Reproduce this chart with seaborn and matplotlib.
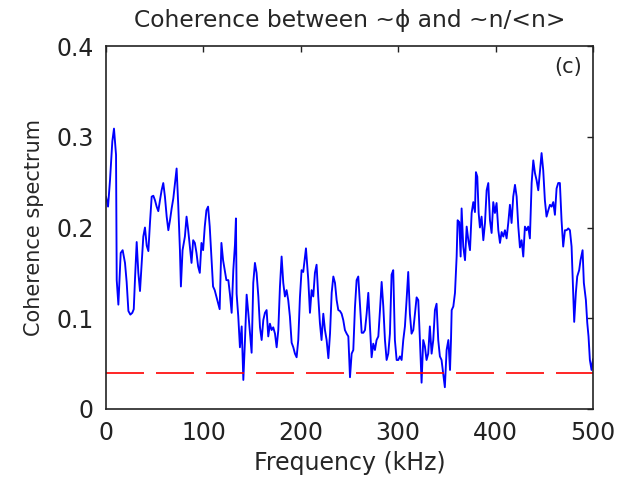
import numpy as np
import pandas as pd
import matplotlib
matplotlib.use("Agg")
import matplotlib.pyplot as plt
import seaborn as sns

# Frequency (kHz) and coherence values
freq = [0.0, 2.1, 4.1, 6.5, 8.2, 10.3, 11.0, 12.7, 15.1, 17.1, 19.5, 21.2, 23.0, 25.0, 27.0, 28.5,
        29.8, 31.5, 33.2, 34.9, 36.6, 38.3, 40.0, 41.8, 43.5, 45.2, 46.9, 48.6, 50.3, 52.0, 53.7,
        55.4, 57.1, 58.8, 60.5, 62.3, 64.0, 65.7, 67.4, 69.1, 70.8, 72.5, 74.2, 75.9, 76.9, 78.6,
        81.0, 82.7, 84.4, 86.1, 87.8, 89.5, 91.2, 92.9, 94.6, 96.3, 98.0, 99.7, 101.4, 103.1,
        104.8, 106.5, 108.2, 109.9, 111.6, 113.3, 116.7, 118.5, 120.2, 123.6,
        125.6, 127.3, 129.0, 130.7, 132.4, 133.4, 134.1, 135.8, 137.5, 139.3, 141.0, 142.7, 144.4,
        146.1, 147.8, 149.5, 151.2, 152.9, 154.6, 156.4, 158.1, 159.8, 161.5, 163.2, 164.9, 166.6,
        168.3, 170.0, 171.7, 173.5, 175.2, 176.9, 178.6, 180.3, 182.0, 183.7, 185.4, 187.1, 188.8,
        190.6, 192.3, 194.0, 195.7, 197.4, 199.1, 200.8, 202.5, 205.3, 207.7, 209.4, 211.1, 212.8,
        214.5, 216.2, 217.9, 219.6, 221.3,
        223.1, 224.8, 226.5, 228.3, 230.0, 231.7, 233.4, 235.1, 236.8, 238.5, 240.2, 241.9, 243.6,
        245.3, 247.1, 248.8, 250.5, 252.2, 253.9, 255.6, 257.3, 259.0, 260.7, 262.5, 264.2, 265.9,
        267.6, 269.3, 271.0, 272.7, 274.4, 276.1, 277.8, 279.6, 281.3, 283.0, 284.7, 286.4, 288.1,
        289.8, 291.5, 293.2, 294.9, 296.6, 298.4, 300.1, 301.8, 303.5, 305.2, 306.9, 308.6, 310.3,
        312.0, 313.7, 315.5, 317.2, 318.9, 320.6, 322.3, 324.0, 325.7, 327.4, 329.1, 330.8, 332.5,
        334.3, 336.0, 337.7, 339.4, 341.1, 342.8, 344.5, 346.2, 347.9,
        349.7, 351.5, 353.2, 354.2, 354.9, 356.6, 358.3, 360.0, 361.0, 362.7, 364.1, 365.1, 366.8,
        368.6, 370.3, 372.0, 373.7, 375.4, 377.1, 378.8, 379.8, 381.2, 382.6, 383.9, 385.6, 387.4,
        389.1, 390.8, 392.5, 394.2, 395.9, 397.6, 399.3, 401.0, 402.8, 404.5, 406.2, 407.9, 409.6,
        411.3, 413.0, 414.7, 416.4, 418.1, 419.9, 421.6, 423.3, 425.0, 426.7, 428.4, 430.1, 431.8,
        433.5, 435.2, 437.0, 438.7, 440.4, 442.1, 443.8, 445.5, 447.2, 448.9, 450.6, 452.3, 454.1,
        455.8, 457.5, 459.2, 460.9, 462.6, 464.3, 466.0, 467.7, 469.4, 471.2, 472.9, 474.6, 476.3,
        478.0, 479.7, 480.7, 482.4, 483.8, 485.8, 487.2, 489.3, 490.6, 492.7, 494.1, 495.4, 496.8,
        498.5, 500.0]

coherence = [0.234, 0.223, 0.252, 0.295, 0.309, 0.280, 0.142, 0.115, 0.172, 0.175, 0.161, 0.140,
             0.108, 0.104, 0.106, 0.110,
             0.144, 0.184, 0.150, 0.130, 0.160, 0.190, 0.200, 0.180, 0.174, 0.206, 0.234, 0.235,
             0.230, 0.223, 0.218, 0.230, 0.241, 0.249, 0.234, 0.212, 0.197, 0.208, 0.221, 0.232,
             0.249, 0.265, 0.224, 0.175, 0.135, 0.175, 0.190, 0.212, 0.197, 0.179, 0.161, 0.186,
             0.183, 0.172, 0.157, 0.150, 0.183, 0.175, 0.201, 0.219, 0.223, 0.201, 0.168, 0.135,
             0.131, 0.124, 0.110, 0.183, 0.164, 0.142,
             0.142, 0.126, 0.106, 0.153, 0.181, 0.210, 0.127, 0.102, 0.068, 0.091, 0.032, 0.076,
             0.126, 0.106, 0.084, 0.062, 0.139, 0.161, 0.150, 0.124, 0.090, 0.076, 0.098, 0.106,
             0.109, 0.080, 0.094, 0.087, 0.090, 0.083, 0.068, 0.087, 0.135, 0.168, 0.139, 0.124,
             0.131, 0.120, 0.102, 0.073, 0.068, 0.061, 0.057, 0.076, 0.123, 0.153, 0.151, 0.177,
             0.142, 0.106, 0.131, 0.124, 0.150, 0.159, 0.124, 0.095, 0.076,
             0.105, 0.087, 0.076, 0.056, 0.083, 0.128, 0.146, 0.139, 0.120, 0.109, 0.108, 0.105,
             0.098, 0.087, 0.083, 0.080, 0.035, 0.061, 0.065, 0.112, 0.142, 0.146, 0.116, 0.084,
             0.084, 0.087, 0.105, 0.128, 0.091, 0.057, 0.072, 0.065, 0.076, 0.080, 0.109, 0.140,
             0.113, 0.076, 0.054, 0.061, 0.083, 0.148, 0.153, 0.076, 0.054, 0.054, 0.058, 0.054,
             0.076, 0.091, 0.120, 0.151, 0.105, 0.083, 0.087, 0.105, 0.123, 0.120, 0.076, 0.029,
             0.076, 0.069, 0.054, 0.061, 0.091, 0.061, 0.076, 0.109, 0.116, 0.076, 0.058, 0.054,
             0.039, 0.024,
             0.065, 0.076, 0.043, 0.076, 0.109, 0.113, 0.128, 0.168, 0.208, 0.206, 0.168, 0.221,
             0.179, 0.164, 0.201, 0.186, 0.175, 0.216, 0.228, 0.217, 0.261, 0.256, 0.216, 0.200,
             0.212, 0.186, 0.205, 0.241, 0.249, 0.208, 0.194, 0.228, 0.216, 0.227, 0.197, 0.183,
             0.195, 0.190, 0.197, 0.188, 0.205, 0.225, 0.205, 0.234, 0.247, 0.234, 0.201, 0.178,
             0.186, 0.168, 0.201, 0.197, 0.201, 0.188, 0.249, 0.274, 0.260, 0.252, 0.241, 0.261,
             0.282, 0.263, 0.230, 0.212, 0.219, 0.225, 0.223, 0.228, 0.214, 0.243, 0.249, 0.249,
             0.208, 0.179, 0.197, 0.197, 0.199, 0.197, 0.179, 0.128, 0.096, 0.128, 0.146, 0.153,
             0.164, 0.175, 0.139, 0.120, 0.095, 0.080, 0.054, 0.043, 0.055]

threshold_freq = [0, 500]
threshold = [0.04, 0.04]

x_ticks = [0, 100, 200, 300, 400, 500]
y_ticks = [0, 0.1, 0.2, 0.3, 0.4]
y_tick_labels = ["0", "0.1", "0.2", "0.3", "0.4"]

title = "Coherence between ~\u03d5 and ~n/<n>"
x_label = "Frequency (kHz)"
y_label = "Coherence spectrum"
panel_label = "(c)"

sns.set_style("white")
plt.rcParams["font.family"] = ["DejaVu Sans"]

fig = plt.figure(figsize=(6.17, 4.79), dpi=100)
ax = fig.add_axes([106 / 617, 1 - 409 / 479, 487 / 617, 363 / 479])

df = pd.DataFrame({"freq": freq, "coh": coherence})
sns.lineplot(data=df, x="freq", y="coh", ax=ax, color="#0000FF", linewidth=1.35,
             sort=False, estimator=None)
sns.lineplot(x=threshold_freq, y=threshold, ax=ax, color="#FF0000", linewidth=1.2)
ax.lines[-1].set_dashes((22.8, 7.2))

ax.set_xlim(0, 500)
ax.set_ylim(0, 0.4)
ax.set_xticks(x_ticks)
ax.set_yticks(y_ticks)
ax.set_yticklabels(y_tick_labels)
ax.tick_params(direction="in", length=4, width=1, top=True, right=True,
               labelsize=17, pad=9, colors="#222222")
for s in ax.spines.values():
    s.set_visible(True)
    s.set_linewidth(1.2)
    s.set_color("#222222")

ax.set_title(title, fontsize=16.8, pad=14)
ax.set_xlabel(x_label, fontsize=17, labelpad=4)
ax.set_ylabel(y_label, fontsize=15, labelpad=9)
ax.text(474, 0.377, panel_label, fontsize=15, ha="center", va="center")

fig.savefig("out.png", dpi=100)
